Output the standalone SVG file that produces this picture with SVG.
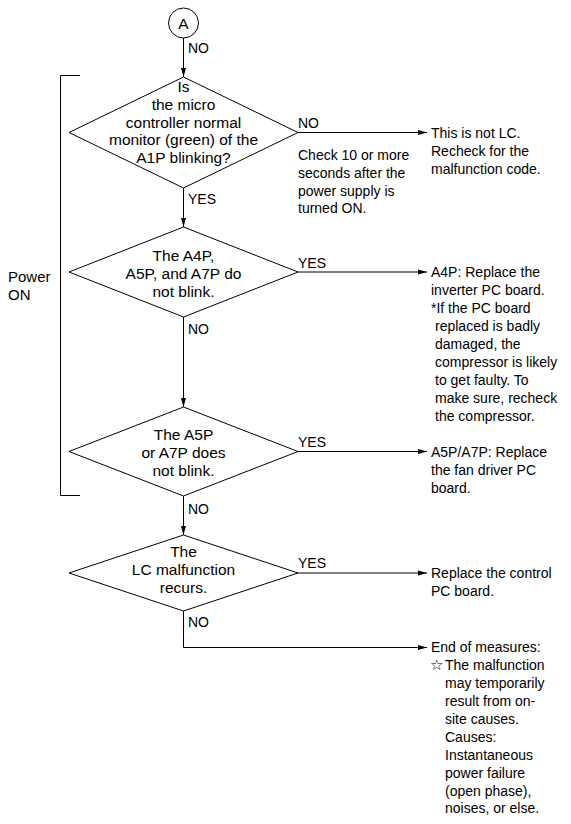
<svg xmlns="http://www.w3.org/2000/svg" width="571" height="824" viewBox="0 0 571 824">
<style>
text{font-family:"Liberation Sans",Arial,sans-serif;fill:#000}
.d{font-size:15.5px;text-anchor:middle}
.t{font-size:14px}
.p{font-size:15px}
.shape{fill:#fff;stroke:#000;stroke-width:1}
.c{fill:none;stroke:#000;stroke-width:1}
</style>
<defs>
<marker id="ah" markerUnits="userSpaceOnUse" markerWidth="9" markerHeight="6" refX="9" refY="3" orient="auto">
<path d="M0,0.5 L9,3 L0,5.5 z" fill="#000"/>
</marker>
</defs>
<rect width="571" height="824" fill="#fff"/>
<g id="bracket">
<path class="c" d="M80,75.5 H60.5 V495.5 H80"/>
<text class="p" x="8" y="282">Power</text>
<text class="p" x="8" y="300">ON</text>
</g>
<g id="connectors">
<path class="c" d="M183.5,38 V77" marker-end="url(#ah)"/>
<path class="c" d="M298,132.5 H427" marker-end="url(#ah)"/>
<path class="c" d="M183.5,188 V227" marker-end="url(#ah)"/>
<path class="c" d="M298,272 H427" marker-end="url(#ah)"/>
<path class="c" d="M183.5,317 V407" marker-end="url(#ah)"/>
<path class="c" d="M298,451.5 H427" marker-end="url(#ah)"/>
<path class="c" d="M183.5,496 V535" marker-end="url(#ah)"/>
<path class="c" d="M298,573 H427" marker-end="url(#ah)"/>
<path class="c" d="M183.5,611 V647.5 H427" marker-end="url(#ah)"/>
<text class="t" x="188" y="53">NO</text>
<text class="t" x="298" y="128">NO</text>
<text class="t" x="188" y="204">YES</text>
<text class="t" x="298" y="268">YES</text>
<text class="t" x="188" y="334">NO</text>
<text class="t" x="298" y="447">YES</text>
<text class="t" x="188" y="514">NO</text>
<text class="t" x="298" y="568">YES</text>
<text class="t" x="188" y="627">NO</text>
</g>
<g id="startA">
<circle class="shape" cx="183.5" cy="23" r="15"/>
<text class="d" x="183.5" y="28.5">A</text>
</g>
<g id="decision1">
<polygon class="shape" points="183.5,77 298,132.5 183.5,188 69,132.5"/>
<text class="d" x="183.5" y="92">Is</text>
<text class="d" x="183.5" y="110">the micro</text>
<text class="d" x="183.5" y="127.5">controller normal</text>
<text class="d" x="183.5" y="145">monitor (green) of the</text>
<text class="d" x="183.5" y="162.5">A1P blinking?</text>
</g>
<g id="note1">
<text class="t" x="298" y="160">Check 10 or more</text>
<text class="t" x="298" y="177.5">seconds after the</text>
<text class="t" x="298" y="195.5">power supply is</text>
<text class="t" x="298" y="213">turned ON.</text>
</g>
<g id="result1">
<text class="t" x="431" y="138">This is not LC.</text>
<text class="t" x="431" y="156">Recheck for the</text>
<text class="t" x="431" y="174">malfunction code.</text>
</g>
<g id="decision2">
<polygon class="shape" points="183.5,227 298,272 183.5,317 69,272"/>
<text class="d" x="183.5" y="261">The A4P,</text>
<text class="d" x="183.5" y="279">A5P, and A7P do</text>
<text class="d" x="183.5" y="297">not blink.</text>
</g>
<g id="result2">
<text class="t" x="431" y="276.5">A4P: Replace the</text>
<text class="t" x="431" y="294.5">inverter PC board.</text>
<text class="t" x="431" y="312.5">*If the PC board</text>
<text class="t" x="435" y="330.5">replaced is badly</text>
<text class="t" x="435" y="348.5">damaged, the</text>
<text class="t" x="435" y="366.5">compressor is likely</text>
<text class="t" x="435" y="384.5">to get faulty. To</text>
<text class="t" x="435" y="402.5">make sure, recheck</text>
<text class="t" x="435" y="420.5">the compressor.</text>
</g>
<g id="decision3">
<polygon class="shape" points="183.5,407 298,451.5 183.5,496 69,451.5"/>
<text class="d" x="183.5" y="439.5">The A5P</text>
<text class="d" x="183.5" y="457.5">or A7P does</text>
<text class="d" x="183.5" y="475.5">not blink.</text>
</g>
<g id="result3">
<text class="t" x="431" y="456.5">A5P/A7P: Replace</text>
<text class="t" x="431" y="474.5">the fan driver PC</text>
<text class="t" x="431" y="492.5">board.</text>
</g>
<g id="decision4">
<polygon class="shape" points="183.5,535 298,573 183.5,611 69,573"/>
<text class="d" x="183.5" y="557">The</text>
<text class="d" x="183.5" y="575">LC malfunction</text>
<text class="d" x="183.5" y="593">recurs.</text>
</g>
<g id="result4">
<text class="t" x="431" y="578">Replace the control</text>
<text class="t" x="431" y="596">PC board.</text>
</g>
<g id="result5">
<text class="t" x="431" y="652">End of measures:</text>
<text class="t" x="430" y="670"><tspan font-family="'DejaVu Sans',sans-serif" font-size="15">☆</tspan><tspan x="445">The malfunction</tspan></text>
<text class="t" x="445" y="688">may temporarily</text>
<text class="t" x="445" y="706">result from on-</text>
<text class="t" x="445" y="724">site causes.</text>
<text class="t" x="445" y="742">Causes:</text>
<text class="t" x="445" y="760">Instantaneous</text>
<text class="t" x="445" y="778">power failure</text>
<text class="t" x="445" y="796">(open phase),</text>
<text class="t" x="445" y="813">noises, or else.</text>
</g>
</svg>
